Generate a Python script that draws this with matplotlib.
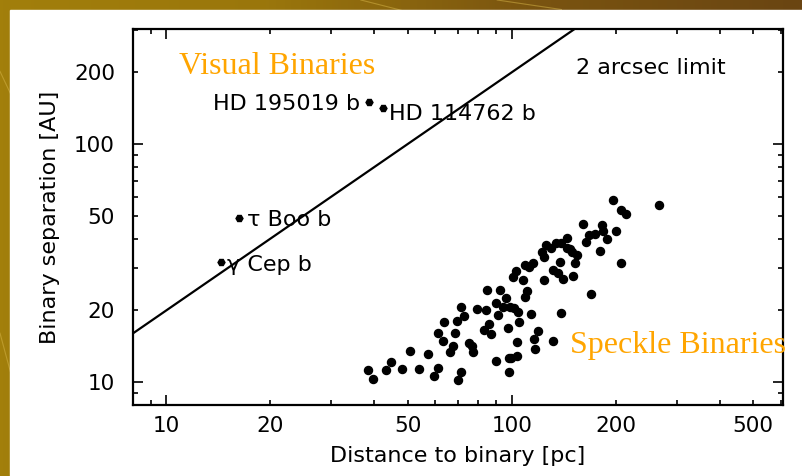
import numpy as np
import matplotlib
matplotlib.use("Agg")
import matplotlib.pyplot as plt
from matplotlib.ticker import FixedLocator, FuncFormatter
from matplotlib.patches import Rectangle

# speckle binaries (distance [pc], separation [AU])
speckle_dist = [38.3, 39.6, 43.3, 44.8, 48.1, 50.6, 53.9, 57.2, 59.4, 61.3,
                61.1, 63.0, 63.8, 66.1, 67.6, 68.5, 69.4, 71.5, 72.7, 69.9,
                71.5, 75.2, 77.2, 76.9, 79.3, 84.1, 84.5, 83.0, 86.0, 86.9,
                89.8, 90.3, 91.3, 92.3, 94.4, 95.9, 97.6, 98.7, 101.3, 103.2,
                98.0, 99.8, 103.6, 98.0, 104.3, 105.0, 100.9, 102.7, 107.8, 109.1,
                110.3, 109.1, 112.2, 115.3, 114.0, 115.8, 116.6, 119.2, 122.4, 124.1,
                125.5, 129.5, 131.8, 131.2, 134.1, 136.2, 137.8, 138.4, 140.3, 144.1,
                144.7, 148.9, 150.5, 152.2, 154.0, 138.4, 161.0, 163.9, 167.5, 169.1,
                174.0, 179.9, 182.0, 183.9, 188.1, 195.8, 200.1, 207.0, 206.5, 214.0,
                266.2, 123.9, 147.3]
speckle_sep = [11.2, 10.3, 11.2, 12.1, 11.3, 13.5, 11.3, 13.1, 10.6, 11.4,
               16.0, 14.8, 17.8, 13.4, 14.2, 16.0, 18.0, 20.6, 18.9, 10.2,
               11.0, 14.6, 13.3, 14.2, 20.3, 20.1, 24.4, 16.5, 17.6, 15.9,
               12.2, 21.4, 19.1, 24.4, 20.7, 22.5, 16.8, 20.7, 20.5, 14.7,
               12.6, 12.6, 12.8, 11.0, 19.6, 17.9, 27.7, 29.3, 26.8, 22.8,
               24.1, 31.0, 30.3, 31.5, 19.3, 15.1, 13.7, 16.3, 35.1, 26.8,
               37.6, 36.5, 29.6, 14.8, 38.5, 28.6, 31.8, 38.5, 27.1, 36.5,
               40.4, 35.3, 28.0, 31.7, 34.2, 19.4, 46.0, 38.6, 41.3, 23.4,
               41.7, 35.6, 45.7, 43.2, 40.0, 58.2, 43.2, 31.7, 52.8, 50.8,
               55.3, 33.6, 36.1]

# planet host binaries
planet_names = ["HD 195019 b", "HD 114762 b", "τ Boo b", "γ Cep b"]
planet_dist = [38.5, 42.5, 16.2, 14.4]
planet_sep = [150, 141, 49, 32]

# 2 arcsec limit: separation = 2 * distance
limit_dist = np.array([5.0, 1000.0])
limit_sep = 2.0 * limit_dist

fig = plt.figure(figsize=(8.02, 4.76), dpi=100)

# slide background
bg = fig.add_axes([0, 0, 1, 1], zorder=-10)
grad = np.linspace(0, 1, 256)[None, :]
cmap = matplotlib.colors.LinearSegmentedColormap.from_list(
    "gold", ["#a27f0b", "#9a760c", "#7a5410", "#6a4512"])
bg.imshow(grad, aspect="auto", cmap=cmap, extent=[0, 1, 0, 1])
for x0, y0, x1, y1 in [(0.0, 0.85, 0.07, 0.6), (0.0, 0.3, 0.04, 0.05),
                       (0.45, 1.0, 0.52, 0.97), (0.62, 1.0, 0.7, 0.98)]:
    bg.plot([x0, x1], [y0, y1], color="#d8b74a", lw=0.8, alpha=0.5)
bg.set_xlim(0, 1)
bg.set_ylim(0, 1)
bg.axis("off")
bg.add_patch(Rectangle((10 / 802, 0), 1, 1 - 10 / 476, color="white", zorder=5))

ax = fig.add_axes([133 / 802, 1 - 405 / 476, 650 / 802, 376 / 476])
ax.set_xscale("log")
ax.set_yscale("log")
ax.set_xlim(8, 610)
ax.set_ylim(8, 304)

ax.plot(limit_dist, limit_sep, color="black", lw=1.6)
ax.plot(speckle_dist, speckle_sep, "o", color="black", ms=5.8, mec="black")
ax.plot(planet_dist, planet_sep, "H", color="black", ms=5.0)

offsets = [(-6, -1.5, "right"), (4, -4, "left"), (6, -2, "left"), (4, -2.5, "left")]
for name, d, s, (dx, dy, ha) in zip(planet_names, planet_dist, planet_sep, offsets):
    ax.annotate(name, (d, s), xytext=(dx, dy), textcoords="offset points",
                ha=ha, va="center", fontsize=16)

ax.text(253, 208, "2 arcsec limit", ha="center", va="center", fontsize=16)
ax.text(10.9, 197, "Visual Binaries", ha="left", va="baseline",
        fontsize=23, color="#ffa500", family="Liberation Serif")
ax.text(1.005, 13.2, "Speckle Binaries", ha="right", va="baseline",
        fontsize=23, color="#ffa500", family="Liberation Serif",
        transform=ax.get_yaxis_transform())

# ticks: long at decades, short elsewhere, labels at 1-2-5
decades = [10, 100]
minors = [m * 10 ** e for e in range(0, 3) for m in range(2, 10)]
shown = {20, 50, 200, 500}

def minor_label(v, pos):
    r = int(round(v))
    return str(r) if r in shown else ""

for axis in (ax.xaxis, ax.yaxis):
    axis.set_major_locator(FixedLocator(decades))
    axis.set_minor_locator(FixedLocator(minors))
    axis.set_major_formatter(FuncFormatter(lambda v, p: str(int(round(v)))))
    axis.set_minor_formatter(FuncFormatter(minor_label))

ax.tick_params(which="both", direction="in", top=True, right=True,
               labelsize=15.5, width=1.2)
ax.tick_params(which="major", length=7.5)
ax.tick_params(which="minor", length=3.5)
ax.tick_params(axis="x", which="both", pad=8)
ax.tick_params(axis="y", which="both", pad=13)

for sp in ax.spines.values():
    sp.set_linewidth(1.6)

ax.set_xlabel("Distance to binary [pc]", fontsize=16, labelpad=7)
ax.set_ylabel("Binary separation [AU]", fontsize=16, labelpad=10)

fig.savefig("out.png", dpi=100)
